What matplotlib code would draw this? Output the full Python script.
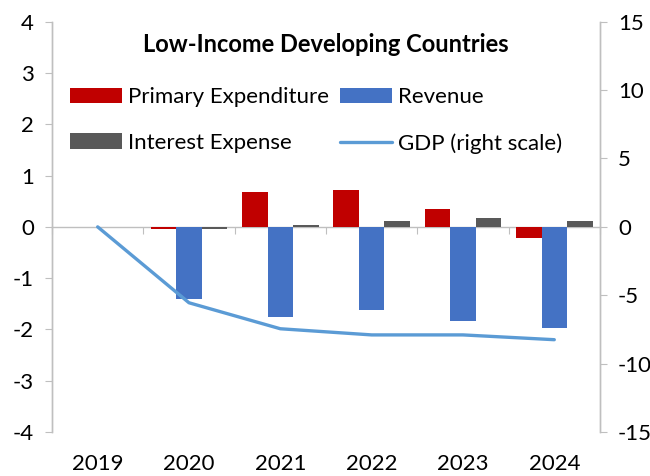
import numpy as np
import matplotlib
matplotlib.use("Agg")
import matplotlib.pyplot as plt
import matplotlib.transforms as mtransforms

plt.rcParams['font.family'] = ['Lato', 'DejaVu Sans']
plt.rcParams['axes.unicode_minus'] = False

# Données (points de PIB, écart par rapport à 2019)
annees = ["2019", "2020", "2021", "2022", "2023", "2024"]
depenses_primaires = [0.0, -0.05, 0.67, 0.72, 0.35, -0.21]
recettes = [0.0, -1.40, -1.76, -1.62, -1.83, -1.97]
charges_interets = [0.0, -0.05, 0.04, 0.12, 0.17, 0.12]
pib = [0.0, -5.55, -7.45, -7.9, -7.9, -8.25]

fig = plt.figure(figsize=(6.5, 4.76), dpi=100)
ax = fig.add_axes([0.08, 0.0924, 0.843, 0.862])
ax2 = ax.twinx()

x = np.arange(len(annees))
w = 0.28
gris_axe = "#BFBFBF"

ax.bar(x - w, depenses_primaires, width=w, color="#C00000", label="Primary Expenditure", zorder=3)
ax.bar(x, recettes, width=w, color="#4472C4", label="Revenue", zorder=3)
ax.bar(x + w, charges_interets, width=w, color="#595959", label="Interest Expense", zorder=3)
ax2.plot(x, pib, color="#5B9BD5", lw=2.4, label="GDP (right scale)", solid_capstyle="round")

ax.set_xlim(-0.5, 5.5)
ax.set_ylim(-4, 4)
ax2.set_ylim(-15, 15)
ax.set_yticks(range(-4, 5))
ax2.set_yticks(range(-15, 16, 5))

# axe horizontal sur le zéro, graduations entre les catégories
ax.spines['bottom'].set_position(('data', 0))
ax.spines['bottom'].set_zorder(2)
ax.set_xticks(np.arange(-0.5, 6, 1.0))
ax.set_xticklabels([])
ax.tick_params(axis='x', direction='out', length=5, color=gris_axe)

for a in (ax, ax2):
    a.spines['top'].set_visible(False)
    for s in ('left', 'right', 'bottom'):
        a.spines[s].set_color(gris_axe)
        a.spines[s].set_linewidth(1.0)
ax2.spines['bottom'].set_visible(False)

ax.tick_params(axis='y', direction='out', length=5, color=gris_axe, labelsize=16, pad=8)
ax2.tick_params(axis='y', direction='out', length=5, color=gris_axe, labelsize=16, pad=8)

# années sous le graphique
trans = mtransforms.blended_transform_factory(ax.transData, ax.transAxes)
for xi, an in zip(x, annees):
    ax.annotate(an, (xi, 0), xycoords=trans, xytext=(0, -16), textcoords="offset points",
                ha="center", va="top", fontsize=16)

ax.text(0.5, 0.944, "Low-Income Developing Countries", transform=ax.transAxes,
        ha="center", va="center", fontsize=17, fontweight="bold")

h1, l1 = ax.get_legend_handles_labels()
h2, l2 = ax2.get_legend_handles_labels()
handles = [h1[0], h1[2], h1[1], h2[0]]
labels = [l1[0], l1[2], l1[1], l2[0]]
ax.legend(handles, labels, ncol=2, frameon=False, fontsize=16,
          loc="upper left", bbox_to_anchor=(0.033, 0.84), borderpad=0, borderaxespad=0,
          handlelength=2.34, handleheight=0.7, columnspacing=0.5, handletextpad=0.27,
          labelspacing=1.15)

fig.savefig("out.png", dpi=100)
